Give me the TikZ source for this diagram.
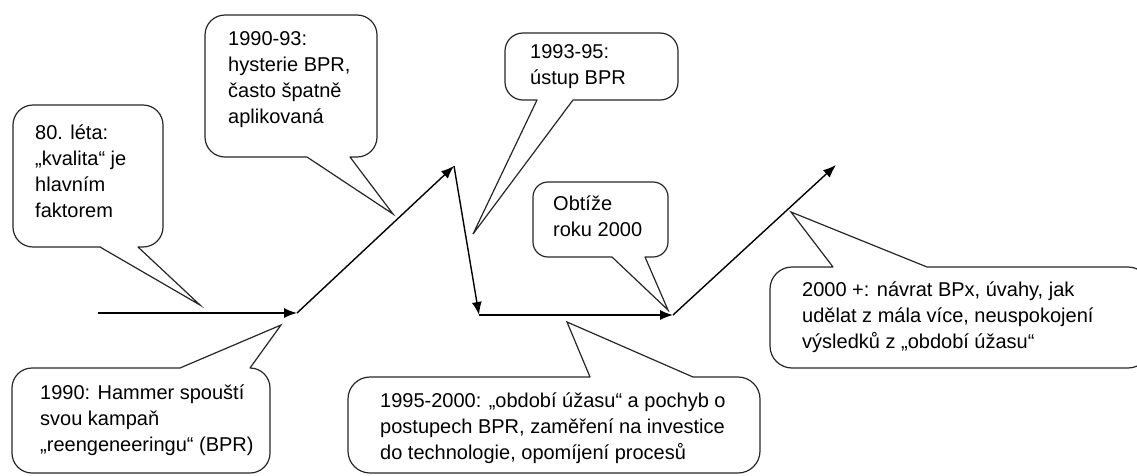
\documentclass[tikz,border=0pt]{standalone}
\usepackage{fontspec}
\setmainfont{Liberation Sans}
\usepackage{tikz}
\usetikzlibrary{arrows.meta}
\newcommand{\balloon}[8]{
    \draw [balloon, rounded corners=#8pt] (#7,#4) -- (#3,#4) -- (#3,#5) -- (#2,#5) -- (#2,#4) -- (#6,#4) [sharp corners] (#6,#4) -- (#1) -- (#7,#4);
}

\begin{document}
\begin{tikzpicture}[x=1pt, y=-1pt, line join=miter,
    note/.style={anchor=west, align=left, inner sep=0pt, font=\fontsize{20}{26}\selectfont},
    balloon/.style={draw=black!85, line width=1.2pt, line cap=round},
    trend/.style={draw=black, line width=1.4pt, -{Latex[length=13pt, width=10pt]}}]
    \useasboundingbox (0,0) rectangle (1137,475);

    \coordinate (start) at (98,313);
    \coordinate (hammer_pt) at (297,313);
    \coordinate (peak) at (454,166);
    \coordinate (low) at (479,315);
    \coordinate (y2k) at (673,315);
    \coordinate (end) at (836,165);

    \draw [trend] (start) -- (hammer_pt);
    \draw [trend] (hammer_pt) -- (peak);
    \draw [trend] (peak) -- (low);
    \draw [trend] (low) -- (y2k);
    \draw [trend] (y2k) -- (end);

    \coordinate (leta_80_tip) at (200,305);
    \coordinate (hysterie_tip) at (393,214);
    \coordinate (ustup_tip) at (473,234);
    \coordinate (obtize_tip) at (668,310);
    \coordinate (hammer_tip) at (281,325);
    \coordinate (uzas_tip) at (567,322);
    \coordinate (navrat_tip) at (791,212);

    \balloon{leta_80_tip}{13}{163}{247}{105}{100}{138}{20}
    \balloon{hysterie_tip}{205}{377}{157}{15}{307}{350}{20}
    \balloon{ustup_tip}{505}{678}{100}{33}{537}{573}{18}
    \balloon{obtize_tip}{533}{668}{257}{182}{612}{645}{15}
    \balloon{hammer_tip}{12}{270}{368}{473}{180}{250}{20}
    \balloon{uzas_tip}{348}{760}{377}{473}{590}{693}{22}
    \balloon{navrat_tip}{770}{1150}{267}{368}{833}{927}{22}

    \node (leta_80) [note] at (35,171) {80. léta:\\„kvalita“ je\\hlavním\\faktorem};
    \node (hysterie) [note] at (228,80) {1990-93:\\hysterie BPR,\\často špatně\\aplikovaná};
    \node (ustup) [note] at (530,67) {1993-95:\\ústup BPR};
    \node (obtize) [note] at (553,216) {Obtíže\\roku 2000};
    \node (hammer) [note] at (40,420) {1990: Hammer spouští\\svou kampaň\\„reengeneeringu“ (BPR)};
    \node (uzas) [note] at (380,428) {1995-2000: „období úžasu“ a pochyb o\\postupech BPR, zaměření na investice\\do technologie, opomíjení procesů};
    \node (navrat) [note] at (802,317) {2000 +: návrat BPx, úvahy, jak\\udělat z mála více, neuspokojení\\výsledků z „období úžasu“};

\end{tikzpicture}
\end{document}
